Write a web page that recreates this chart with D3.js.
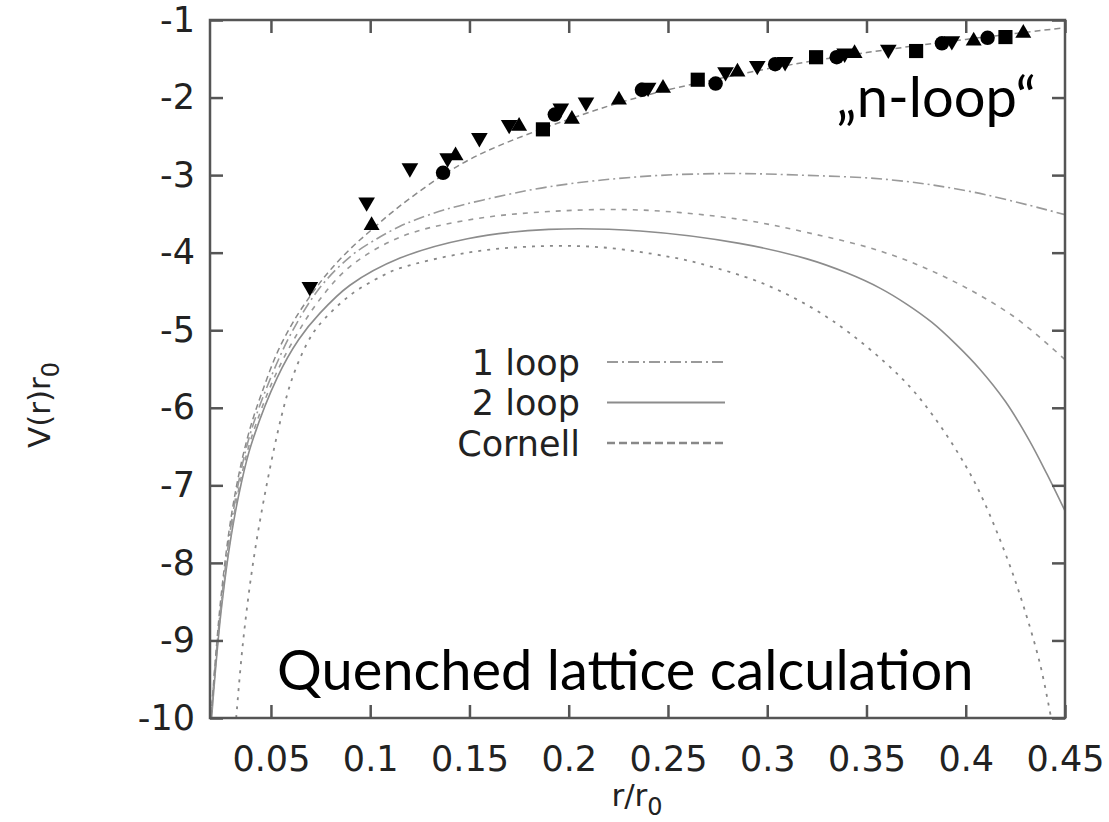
<!DOCTYPE html>
<html>
<head>
<meta charset="utf-8">
<script src="https://cdn.jsdelivr.net/npm/d3@7"></script>
<style>
  body { margin: 0; background: #fff; }
  svg { display: block; }
</style>
</head>
<body>
<div id="chart"></div>
<script>
// axis ticks
const xTicks = [0.05, 0.1, 0.15, 0.2, 0.25, 0.3, 0.35, 0.4, 0.45];
const yTicks = [-1, -2, -3, -4, -5, -6, -7, -8, -9, -10];

// Cornell fit (through the lattice points)
const cornellR = [0.0195, 0.022, 0.025, 0.03, 0.035, 0.04, 0.0455, 0.0535, 0.062, 0.072, 0.08, 0.09, 0.1, 0.11, 0.12, 0.1367, 0.15, 0.165, 0.187, 0.207, 0.225, 0.25, 0.275, 0.3, 0.35, 0.4, 0.45];
const cornellV = [-10.1, -9.25, -8.4, -7.4, -6.72, -6.22, -5.8, -5.27, -4.86, -4.48, -4.22, -3.95, -3.72, -3.5, -3.3, -3.0, -2.8, -2.62, -2.4, -2.22, -2.07, -1.9, -1.76, -1.63, -1.42, -1.25, -1.1];

// 1 loop
const oneLoopR = [0.0198, 0.022, 0.025, 0.03, 0.035, 0.04, 0.0485, 0.06, 0.0747, 0.09, 0.1034, 0.115, 0.1235, 0.137, 0.157, 0.19, 0.236, 0.278, 0.3165, 0.362, 0.404, 0.45];
const oneLoopV = [-10, -9.3, -8.5, -7.5, -6.8, -6.3, -5.7, -5.05, -4.45, -4.05, -3.82, -3.66, -3.57, -3.45, -3.32, -3.15, -3.02, -2.98, -3.0, -3.06, -3.22, -3.51];

// 2 loop
const twoLoopR = [0.0198, 0.022, 0.025, 0.03, 0.035, 0.04, 0.053, 0.064, 0.0747, 0.0898, 0.115, 0.149, 0.19, 0.236, 0.286, 0.32, 0.34, 0.357, 0.37, 0.383, 0.395, 0.407, 0.42, 0.432, 0.441, 0.45];
const twoLoopV = [-10.1, -9.4, -8.6, -7.65, -6.98, -6.48, -5.62, -5.12, -4.78, -4.42, -4.07, -3.82, -3.7, -3.72, -3.88, -4.08, -4.26, -4.46, -4.66, -4.9, -5.18, -5.5, -5.92, -6.42, -6.86, -7.33];

// upper / lower band of the 2 loop curve
const upperR = [0.0198, 0.022, 0.025, 0.03, 0.035, 0.04, 0.051, 0.062, 0.0747, 0.0898, 0.115, 0.149, 0.19, 0.236, 0.286, 0.32, 0.357, 0.39, 0.424, 0.45];
const upperV = [-10.05, -9.35, -8.55, -7.6, -6.9, -6.4, -5.65, -5.1, -4.6, -4.18, -3.8, -3.58, -3.47, -3.45, -3.57, -3.74, -3.98, -4.32, -4.82, -5.38];
const lowerR = [0.0325, 0.0359, 0.041, 0.0478, 0.0554, 0.061, 0.068, 0.0737, 0.0898, 0.106, 0.115, 0.149, 0.182, 0.216, 0.25, 0.266, 0.3, 0.333, 0.367, 0.3835, 0.4, 0.409, 0.421, 0.429, 0.4374, 0.443];
const lowerV = [-10, -9.03, -8.0, -7.0, -6.1, -5.6, -5.18, -4.95, -4.55, -4.3, -4.2, -4.0, -3.92, -3.93, -4.05, -4.14, -4.42, -4.88, -5.6, -6.1, -6.75, -7.2, -7.95, -8.55, -9.3, -10];

// lattice data, one array pair per symbol
const downR = [0.0696, 0.0982, 0.12, 0.139, 0.155, 0.17, 0.196, 0.2087, 0.24, 0.279, 0.295, 0.309, 0.339, 0.361, 0.393];
const downV = [-4.44, -3.35, -2.91, -2.78, -2.52, -2.35, -2.14, -2.06, -1.87, -1.67, -1.59, -1.54, -1.43, -1.38, -1.27];
const upR = [0.1007, 0.143, 0.175, 0.2016, 0.2253, 0.2475, 0.285, 0.344, 0.404, 0.429];
const upV = [-3.65, -2.75, -2.37, -2.28, -2.03, -1.88, -1.67, -1.43, -1.27, -1.17];
const circR = [0.1367, 0.193, 0.2369, 0.274, 0.304, 0.335, 0.388, 0.411];
const circV = [-2.97, -2.22, -1.9, -1.82, -1.57, -1.48, -1.3, -1.23];
const sqR = [0.187, 0.265, 0.3246, 0.375, 0.42];
const sqV = [-2.41, -1.77, -1.48, -1.4, -1.22];

const legendNames = ['1 loop', '2 loop', 'Cornell'];

const width = 1109;
const height = 822;
const plotLeft = 210, plotRight = 1065, plotTop = 20, plotBottom = 718;

const svg = d3.select('#chart')
  .append('svg')
  .attr('width', width)
  .attr('height', height);

const x = d3.scaleLinear().domain([0.0193, 0.45]).range([plotLeft, plotRight]);
const y = d3.scaleLinear().domain([-10, -1]).range([plotBottom, plotTop]);

svg.append('clipPath').attr('id', 'plot')
  .append('rect')
  .attr('x', plotLeft).attr('y', plotTop)
  .attr('width', plotRight - plotLeft).attr('height', plotBottom - plotTop);

const zip = (rs, vs) => rs.map((r, i) => [r, vs[i]]);
const line = d3.line()
  .x(d => x(d[0]))
  .y(d => y(d[1]))
  .curve(d3.curveCatmullRom.alpha(0.5));

const curves = [
  { data: zip(oneLoopR, oneLoopV), dash: '11,4,2,4', color: '#9a9a9a', w: 1.6 },
  { data: zip(twoLoopR, twoLoopV), dash: null, color: '#8c8c8c', w: 1.6 },
  { data: zip(upperR, upperV), dash: '5,6', color: '#999', w: 1.6 },
  { data: zip(lowerR, lowerV), dash: '3,6', color: '#888', w: 1.8 },
  { data: zip(cornellR, cornellV), dash: '6,4', color: '#8a8a8a', w: 1.5 }
];

const plot = svg.append('g').attr('clip-path', 'url(#plot)');
plot.selectAll('path.curve')
  .data(curves)
  .join('path')
  .attr('class', 'curve')
  .attr('d', c => line(c.data))
  .attr('fill', 'none')
  .attr('stroke', c => c.color)
  .attr('stroke-width', c => c.w)
  .attr('stroke-dasharray', c => c.dash);

// markers
const markerSets = [
  { data: zip(downR, downV), type: d3.symbolTriangle, size: 120, rot: 180 },
  { data: zip(upR, upV), type: d3.symbolTriangle, size: 110, rot: 0 },
  { data: zip(circR, circV), type: d3.symbolCircle, size: 165, rot: 0 },
  { data: zip(sqR, sqV), type: d3.symbolSquare, size: 200, rot: 0 }
];
markerSets.forEach(m => {
  svg.append('g')
    .selectAll('path')
    .data(m.data)
    .join('path')
    .attr('d', d3.symbol().type(m.type).size(m.size))
    .attr('transform', d => `translate(${x(d[0])},${y(d[1])}) rotate(${m.rot})`)
    .attr('fill', '#000');
});

// axes with inward ticks on all four sides
const tickColor = '#555';
const fontFamily = '"DejaVu Sans", sans-serif';

const styleAxis = g => {
  g.select('.domain').remove();
  g.selectAll('.tick line').attr('stroke', tickColor).attr('stroke-width', 2.5);
  g.selectAll('.tick text')
    .attr('fill', '#222')
    .style('font-family', fontFamily)
    .style('font-size', '35px');
};

svg.append('g')
  .attr('transform', `translate(0,${plotBottom})`)
  .call(d3.axisBottom(x).tickValues(xTicks).tickSize(-13).tickPadding(28).tickFormat(d3.format('')))
  .call(styleAxis);
svg.append('g')
  .attr('transform', `translate(0,${plotTop})`)
  .call(d3.axisTop(x).tickValues(xTicks).tickSize(-13).tickFormat(''))
  .call(styleAxis);
svg.append('g')
  .attr('transform', `translate(${plotLeft},0)`)
  .call(d3.axisLeft(y).tickValues(yTicks).tickSize(-13).tickPadding(15).tickFormat(d3.format('')))
  .call(styleAxis);
svg.append('g')
  .attr('transform', `translate(${plotRight},0)`)
  .call(d3.axisRight(y).tickValues(yTicks).tickSize(-13).tickFormat(''))
  .call(styleAxis);

// the minus sign in the reference is a plain hyphen
svg.selectAll('.tick text').text(function () { return this.textContent.replace('−', '-'); });

svg.append('rect')
  .attr('x', plotLeft).attr('y', plotTop)
  .attr('width', plotRight - plotLeft).attr('height', plotBottom - plotTop)
  .attr('fill', 'none')
  .attr('stroke', tickColor)
  .attr('stroke-width', 2.5);

// axis titles
const xTitle = svg.append('text')
  .attr('x', 637).attr('y', 806)
  .attr('text-anchor', 'middle')
  .attr('fill', '#222')
  .style('font-family', fontFamily)
  .style('font-size', '31px');
xTitle.append('tspan').text('r/r');
xTitle.append('tspan').attr('dy', 9).style('font-size', '24px').text('0');

const yTitle = svg.append('text')
  .attr('transform', 'translate(50,405) rotate(-90)')
  .attr('text-anchor', 'middle')
  .attr('fill', '#222')
  .style('font-family', fontFamily)
  .style('font-size', '31px');
yTitle.append('tspan').text('V(r)r');
yTitle.append('tspan').attr('dy', 9).style('font-size', '24px').text('0');

// legend
const legend = svg.append('g');
legendNames.forEach((name, i) => {
  const ly = 362 + i * 40.5;
  legend.append('text')
    .attr('x', 580).attr('y', ly)
    .attr('dy', '0.36em')
    .attr('text-anchor', 'end')
    .attr('fill', '#222')
    .style('font-family', fontFamily)
    .style('font-size', '35px')
    .text(name);
  const c = [curves[0], curves[1], { dash: '8,4', color: '#888', w: 2 }][i];
  legend.append('line')
    .attr('x1', 607).attr('x2', 725)
    .attr('y1', ly).attr('y2', ly)
    .attr('stroke', c.color)
    .attr('stroke-width', c.w + 0.4)
    .attr('stroke-dasharray', c.dash);
});

// annotations
const annoFont = 'Lato, "Open Sans", sans-serif';
svg.append('text')
  .attr('x', 1036).attr('y', 117)
  .attr('text-anchor', 'end')
  .attr('fill', '#000')
  .style('font-family', annoFont)
  .style('font-size', '56px')
  .text('\u201En-loop\u201C');
svg.append('text')
  .attr('x', 277).attr('y', 690)
  .attr('fill', '#000')
  .style('font-family', annoFont)
  .style('font-size', '56px')
  .text('Quenched lattice calculation');
</script>
</body>
</html>
